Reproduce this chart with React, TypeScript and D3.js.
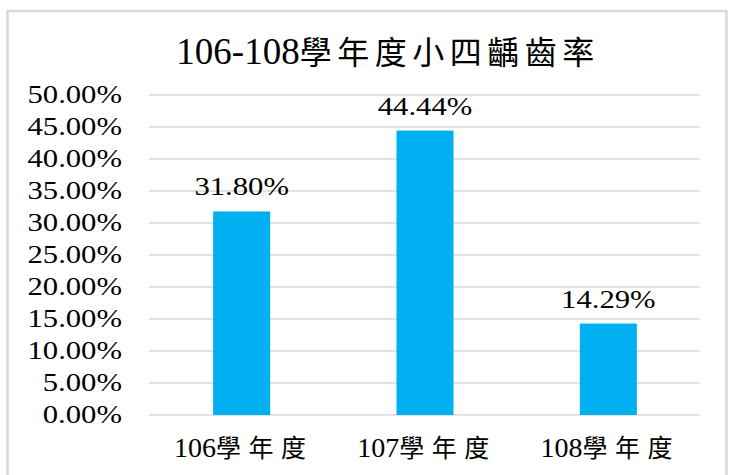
import React from "react";
import * as d3 from "d3";

const categories = ["106學年度", "107學年度", "108學年度"];
const values = [31.8, 44.44, 14.29];
const yTicks = [0, 5, 10, 15, 20, 25, 30, 35, 40, 45, 50];
const title = "106-108學年度小四齲齒率";

const W = 731;
const H = 475;
const latin = "Liberation Serif";
const cjk = "Noto Sans CJK TC";

function splitText(s: string) {
  const m = s.match(/^([0-9\-%.]+)(.*)$/);
  return m ? [m[1], m[2]] : [s, ""];
}

export default function App() {
  const x = d3.scaleBand<string>().domain(categories).range([150, 700]).paddingInner(0.689).paddingOuter(0.3445);
  const y = d3.scaleLinear().domain([0, 50]).range([415, 95]);
  const [tLat, tCjk] = splitText(title);

  return (
    <svg width={W} height={H} style={{ position: "absolute", left: 0, top: 0, background: "#fff" }}>
      <rect x={7.5} y={11} width={719} height={490} fill="#fff" stroke="#d9d9d9" strokeWidth={2.5} />
      <text x={388} y={64} textAnchor="middle" fill="#000">
        <tspan style={{ fontFamily: latin, fontSize: 37 }}>{tLat}</tspan>
        <tspan style={{ fontFamily: cjk, fontSize: 32, letterSpacing: 5.5 }}>{tCjk}</tspan>
      </text>
      {yTicks.map((t) => (
        <g key={t}>
          <line x1={149} x2={700} y1={y(t)} y2={y(t)} stroke="#d9d9d9" strokeWidth={1.3} />
          <text
            transform={`translate(122,${y(t) + 8}) scale(1.18,1)`}
            textAnchor="end"
            style={{ fontFamily: latin, fontSize: 26 }}
            fill="#000"
          >
            {d3.format(".2f")(t) + "%"}
          </text>
        </g>
      ))}
      {categories.map((c, i) => {
        const bx = x(c)!;
        const cx = bx + x.bandwidth() / 2;
        const [lat, cj] = splitText(c);
        return (
          <g key={c}>
            <rect x={bx} y={y(values[i])} width={x.bandwidth()} height={y(0) - y(values[i])} fill="#00b0f0" />
            <text
              transform={`translate(${cx},${y(values[i]) - 16}) scale(1.18,1)`}
              textAnchor="middle"
              style={{ fontFamily: latin, fontSize: 26 }}
              fill="#000"
            >
              {d3.format(".2f")(values[i]) + "%"}
            </text>
            <text x={cx + 2} y={457} textAnchor="middle" fill="#000">
              <tspan style={{ fontFamily: latin, fontSize: 28 }}>{lat}</tspan>
              <tspan style={{ fontFamily: cjk, fontSize: 25, letterSpacing: 7.5 }}>{cj}</tspan>
            </text>
          </g>
        );
      })}
    </svg>
  );
}
